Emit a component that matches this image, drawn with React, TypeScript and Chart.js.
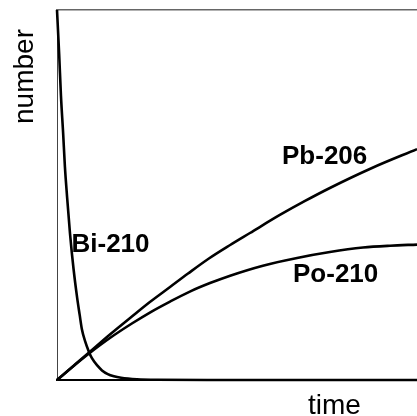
import React, { useEffect, useRef } from "react";
import { Chart, registerables } from "chart.js";

Chart.register(...registerables);

// ---- data (arbitrary units: time 0..10, number 0..100) ----
const timeBi = [0, 0.06, 0.11, 0.17, 0.22, 0.28, 0.36, 0.46, 0.56, 0.63, 0.69, 0.78, 0.88, 0.97, 1.13, 1.25, 1.41, 1.58, 1.78, 2.22, 2.78, 4.17, 10];
const bi210 = [100, 88.1, 76.8, 66.8, 57.6, 49.5, 39.7, 30.0, 22.2, 17.6, 13.8, 10.5, 7.8, 5.9, 3.8, 2.6, 1.6, 1.0, 0.6, 0.2, 0.05, 0, 0];

const timePo = [0, 0.47, 0.89, 1.47, 2.08, 2.58, 3.14, 3.69, 4.25, 4.81, 5.72, 6.67, 7.58, 8.5, 9.25, 10];
const po210 = [0, 3.86, 7.16, 11.35, 15.27, 18.24, 21.2, 23.9, 26.2, 28.2, 30.9, 33.0, 34.6, 35.8, 36.3, 36.6];

const timePb = [0, 0.47, 0.89, 1.47, 2.08, 2.58, 3.14, 3.64, 4.22, 4.81, 5.36, 6.19, 6.89, 7.58, 8.75, 10];
const pb206 = [0, 3.92, 7.43, 12.3, 17.16, 21.08, 25.14, 28.78, 32.84, 36.49, 39.73, 44.6, 48.4, 51.9, 57.3, 62.4];

const seriesNames = ["Bi-210", "Po-210", "Pb-206"];
const xTitle = "time";
const yTitle = "number";

const FONT = "'Liberation Sans', Arial, Helvetica, sans-serif";

const toPoints = (xs: number[], ys: number[]) => xs.map((x, i) => ({ x, y: ys[i] }));

const labelPlugin = {
  id: "curveLabels",
  afterDraw(chart: any) {
    const ctx = chart.ctx as CanvasRenderingContext2D;
    const a = chart.chartArea;
    ctx.save();
    ctx.fillStyle = "#000";
    ctx.textBaseline = "alphabetic";
    ctx.textAlign = "left";
    ctx.font = `bold 26px ${FONT}`;
    ctx.fillText(seriesNames[0], a.left + 14.5, 252);
    ctx.fillText(seriesNames[2], 282, 164);
    ctx.fillText(seriesNames[1], 293, 282);
    ctx.font = `28px ${FONT}`;
    ctx.fillText(xTitle, 308, 414);
    ctx.translate(33, 76.5);
    ctx.rotate(-Math.PI / 2);
    ctx.textAlign = "center";
    ctx.fillText(yTitle, 0, 0);
    ctx.restore();
  },
};

export default function App() {
  const ref = useRef<HTMLCanvasElement | null>(null);
  useEffect(() => {
    document.body.style.margin = "0";
    const canvas = ref.current;
    if (!canvas) return;
    const lineStyle = {
      borderColor: "#000",
      borderWidth: 2.6,
      pointRadius: 0,
      fill: false,
      cubicInterpolationMode: "monotone" as const,
      clip: false as any,
    };
    const chart = new Chart(canvas, {
      type: "line",
      data: {
        datasets: [
          { label: seriesNames[0], data: toPoints(timeBi, bi210), ...lineStyle },
          { label: seriesNames[1], data: toPoints(timePo, po210), ...lineStyle },
          { label: seriesNames[2], data: toPoints(timePb, pb206), ...lineStyle },
        ],
      },
      options: {
        animation: false,
        responsive: false,
        events: [],
        layout: { padding: { left: 57, top: 10, right: 0, bottom: 36 } },
        plugins: { legend: { display: false }, tooltip: { enabled: false } },
        scales: {
          x: {
            type: "linear",
            min: 0,
            max: 10,
            ticks: { display: false },
            grid: { display: false, drawTicks: false },
            border: { display: true, color: "#000", width: 2 },
          },
          xTop: {
            type: "linear",
            position: "top",
            min: 0,
            max: 10,
            ticks: { display: false },
            grid: { display: false, drawTicks: false },
            border: { display: true, color: "#666", width: 1.5 },
          },
          y: {
            type: "linear",
            min: 0,
            max: 100,
            ticks: { display: false },
            grid: { display: false, drawTicks: false },
            border: { display: true, color: "#444", width: 1 },
          },
        },
      },
      plugins: [labelPlugin],
    });
    return () => chart.destroy();
  }, []);
  return <canvas ref={ref} width={417} height={416} style={{ display: "block" }} />;
}
